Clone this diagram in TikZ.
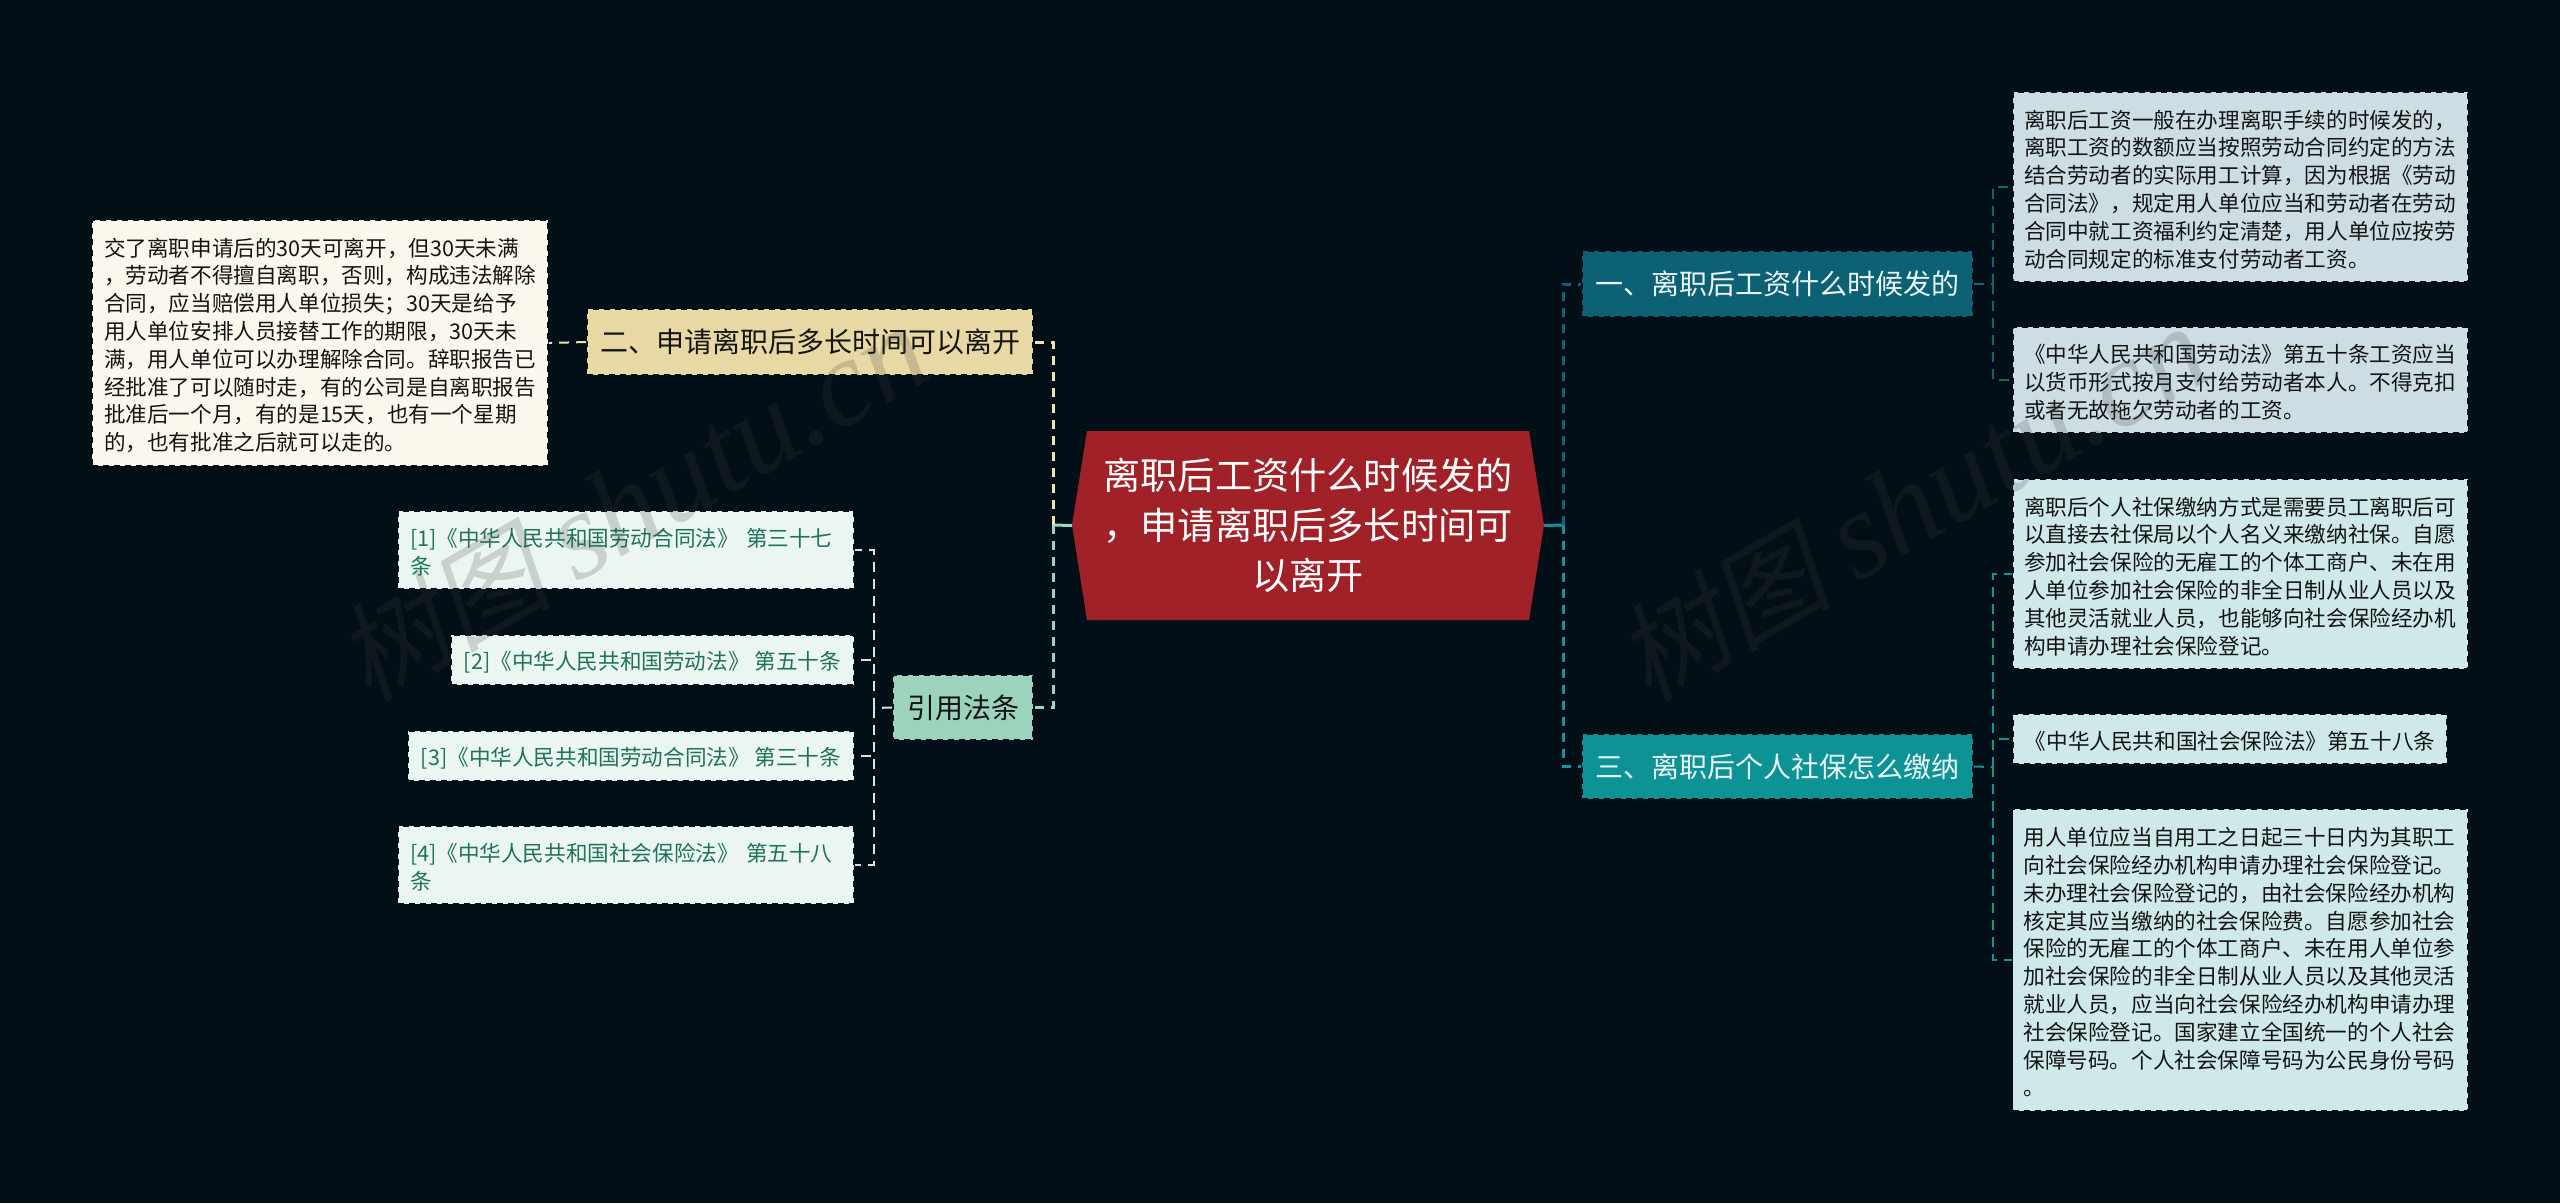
\documentclass[tikz,border=0pt]{standalone}
\usepackage{fontspec}
\setmainfont{Noto Sans CJK SC}
\newfontfamily\wmcjk[FakeSlant=0.2]{Noto Sans CJK SC}
\newfontfamily\wmlat{Liberation Serif}[Ligatures=TeX]
\definecolor{bgc}{HTML}{020F17}
\definecolor{rootred}{HTML}{A02228}
\definecolor{wcream}{HTML}{EFE3B4}
\definecolor{wmint}{HTML}{9AD6C0}
\definecolor{wdeep}{HTML}{0E6478}
\definecolor{wteal}{HTML}{10959A}
\definecolor{wlight}{HTML}{D5E6E2}
\definecolor{wmgray}{HTML}{3E3E3E}
\definecolor{fcite}{HTML}{EBF6F2}
\definecolor{Rtext}{HTML}{1F7359}
\definecolor{fcream}{HTML}{E8D8A4}
\definecolor{fmint}{HTML}{9BD3BC}
\definecolor{fdeep}{HTML}{0C6174}
\definecolor{fteal}{HTML}{0D9396}
\definecolor{ftopictext}{HTML}{EAF6F8}
\definecolor{fpaper}{HTML}{FBF7EC}
\definecolor{fblue}{HTML}{CCDDE3}
\definecolor{fice}{HTML}{CFE8EA}
\tikzset{
  bodyfont/.style={font=\fontsize{21.6pt}{27.8pt}\selectfont},
  topicfont/.style={font=\fontsize{28pt}{34pt}\selectfont},
  boxbase/.style={rectangle,inner sep=0pt,draw=bgc,line width=1.6pt,dash pattern=on 6pt off 5pt},
  leafbox/.style={boxbase,bodyfont,align=left,text=black!92,execute at begin node={\rule{0pt}{23pt}}},
  topicbox/.style={boxbase,topicfont,align=center},
  citebox/.style={leafbox,fill=fcite,text=Rtext},
  mainwire/.style={line width=3pt,dash pattern=on 9pt off 7pt},
  subwire/.style={line width=2pt,dash pattern=on 10pt off 7pt},
  watermark/.style={rotate=30,anchor=base west,inner sep=0pt,text=wmgray,opacity=.2,text opacity=.2},
  wmtext/.style={font=\fontsize{108pt}{108pt}\selectfont}
}
\newcommand{\wmark}{\wmcjk 树图\hspace{24pt}\fontsize{124pt}{124pt}\selectfont\wmlat\itshape shutu.cn}
\begin{document}
\begin{tikzpicture}[x=1pt,y=-1pt]
\fill[bgc] (0,0) rectangle (2560,1203);
\useasboundingbox (0,0) rectangle (2560,1203);
% root
\fill[rootred] (1072,525) -- (1087,431) -- (1529,431) -- (1544,525) -- (1529,620) -- (1087,620) -- cycle;
\node[font=\fontsize{37.2pt}{50pt}\selectfont,text=white,align=center,minimum width=472pt,minimum height=189pt,inner sep=0pt,execute at begin node={\rule{0pt}{35pt}}] (root) at (1308,525.5) {离职后工资什么时候发的\\，申请离职后多长时间可\\以离开};
% topics
\node[topicbox,fill=fcream,text=black!92,minimum width=446pt,minimum height=66pt] (t2) at (810,342) {二、申请离职后多长时间可以离开};
\node[topicbox,fill=fmint,text=black!92,minimum width=140pt,minimum height=65pt] (cite) at (963,707.5) {引用法条};
\node[topicbox,fill=fdeep,text=ftopictext,minimum width=391pt,minimum height=66pt] (t1) at (1777.5,284) {一、离职后工资什么时候发的};
\node[topicbox,fill=fteal,text=ftopictext,minimum width=391pt,minimum height=65pt] (t3) at (1777.5,766.5) {三、离职后个人社保怎么缴纳};
% left leaf
\node[leafbox,fill=fpaper,minimum width=456pt,minimum height=246pt,text width=432pt] (l1) at (320,343) {交了离职申请后的30天可离开，但30天未满\\，劳动者不得擅自离职，否则，构成违法解除\\合同，应当赔偿用人单位损失；30天是给予\\用人单位安排人员接替工作的期限，30天未\\满，用人单位可以办理解除合同。辞职报告已\\经批准了可以随时走，有的公司是自离职报告\\批准后一个月，有的是15天，也有一个星期\\的，也有批准之后就可以走的。};
% citations
\node[citebox,minimum width=456pt,minimum height=78pt,text width=432pt] (c1) at (626,550) {[1]《中华人民共和国劳动合同法》 第三十七\\条};
\node[citebox,minimum width=403pt,minimum height=50pt] (c2) at (652.5,660) {[2]《中华人民共和国劳动法》 第五十条};
\node[citebox,minimum width=446pt,minimum height=50pt] (c3) at (631,756) {[3]《中华人民共和国劳动合同法》 第三十条};
\node[citebox,minimum width=456pt,minimum height=78pt,text width=432pt] (c4) at (626,865) {[4]《中华人民共和国社会保险法》 第五十八\\条};
% right leaves
\node[leafbox,fill=fblue,minimum width=455pt,minimum height=190pt,text width=433pt] (r1) at (2240.5,187) {离职后工资一般在办理离职手续的时候发的，\\离职工资的数额应当按照劳动合同约定的方法\\结合劳动者的实际用工计算，因为根据《劳动\\合同法》，规定用人单位应当和劳动者在劳动\\合同中就工资福利约定清楚，用人单位应按劳\\动合同规定的标准支付劳动者工资。};
\node[leafbox,fill=fblue,minimum width=455pt,minimum height=106pt,text width=433pt] (r2) at (2240.5,380) {《中华人民共和国劳动法》第五十条工资应当\\以货币形式按月支付给劳动者本人。不得克扣\\或者无故拖欠劳动者的工资。};
\node[leafbox,fill=fice,minimum width=455pt,minimum height=190pt,text width=433pt] (r3) at (2240.5,574) {离职后个人社保缴纳方式是需要员工离职后可\\以直接去社保局以个人名义来缴纳社保。自愿\\参加社会保险的无雇工的个体工商户、未在用\\人单位参加社会保险的非全日制从业人员以及\\其他灵活就业人员，也能够向社会保险经办机\\构申请办理社会保险登记。};
\node[leafbox,fill=fice,minimum width=434pt,minimum height=50pt] (r4) at (2230,739) {《中华人民共和国社会保险法》第五十八条};
\node[leafbox,fill=fice,minimum width=455pt,minimum height=302pt,text width=433pt] (r5) at (2240,960) {用人单位应当自用工之日起三十日内为其职工\\向社会保险经办机构申请办理社会保险登记。\\未办理社会保险登记的，由社会保险经办机构\\核定其应当缴纳的社会保险费。自愿参加社会\\保险的无雇工的个体工商户、未在用人单位参\\加社会保险的非全日制从业人员以及其他灵活\\就业人员，应当向社会保险经办机构申请办理\\社会保险登记。国家建立全国统一的个人社会\\保障号码。个人社会保障号码为公民身份号码\\。};
% junctions
\coordinate (jl) at (1053,525);
\coordinate (jr) at (1563,525);
\coordinate (jc) at (874,708);
\coordinate (j1) at (1993,284);
\coordinate (j3) at (1993,767);
% connectors
\draw[line width=3pt,wmint] (root.west) -- (jl);
\draw[line width=3pt,wteal] (root.east) -- (jr);
\draw[mainwire,wcream] (jl) |- (t2.east);
\draw[mainwire,wmint] (jl) |- (cite.east);
\draw[mainwire,wdeep] (jr) |- (t1.west);
\draw[mainwire,wteal] (jr) |- (t3.west);
\draw[subwire,wcream] (t2.west) -- (l1.east);
\draw[subwire,wlight] (cite.west) -- (jc);
\draw[subwire,wlight] (jc) |- (c1.east);
\draw[subwire,wlight] (jc) |- (c2.east);
\draw[subwire,wlight] (jc) |- (c3.east);
\draw[subwire,wlight] (jc) |- (c4.east);
\draw[subwire,wdeep] (t1.east) -- (j1);
\draw[subwire,wdeep] (j1) |- (r1.west);
\draw[subwire,wdeep] (j1) |- (r2.west);
\draw[subwire,wteal] (t3.east) -- (j3);
\draw[subwire,wteal] (j3) |- (r3.west);
\draw[subwire,wteal] (j3) |- (r4.west);
\draw[subwire,wteal] (j3) |- (r5.west);
% watermarks
\node[watermark,wmtext] (wm1) at (368,704) {\wmark};
\node[watermark,wmtext] (wm2) at (1648,704) {\wmark};
\end{tikzpicture}
\end{document}
